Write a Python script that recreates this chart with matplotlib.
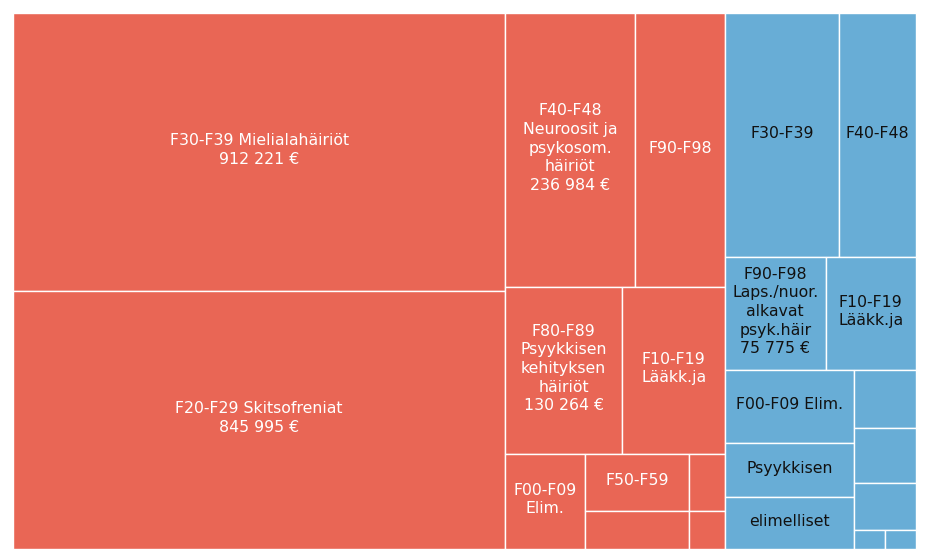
import matplotlib
matplotlib.use("Agg")
import matplotlib.pyplot as plt
from matplotlib.patches import Rectangle

PHI = (1 + 5 ** 0.5) / 2

# group 1 (red)
red_labels = [
    "F30-F39 Mielialahäiriöt",
    "F20-F29 Skitsofreniat",
    "F40-F48\nNeuroosit ja\npsykosom.\nhäiriöt",
    "F90-F98",
    "F80-F89\nPsyykkisen\nkehityksen\nhäiriöt",
    "F10-F19\nLääkk.ja",
    "F00-F09\nElim.",
    "F50-F59",
    "",
    "",
    "",
]
red_values = [912221, 845995, 236984, 164500, 130264, 114400, 50600, 39500, 26300, 13700, 9100]
red_show_value = [True, True, True, False, True, False, False, False, False, False, False]

# group 2 (blue)
blue_labels = [
    "F30-F39",
    "F40-F48",
    "F90-F98\nLaps./nuor.\nalkavat\npsyk.häir",
    "F10-F19\nLääkk.ja",
    "F00-F09 Elim.",
    "Psyykkisen",
    "elimelliset",
    "",
    "",
    "",
    "",
    "",
]
blue_values = [185400, 125200, 75775, 68100, 62800, 46400, 44700, 24000, 22700, 19400, 3900, 3900]
blue_show_value = [False, False, True, False, False, False, False, False, False, False, False, False]

RED = "#e96655"
BLUE = "#68add6"


def squarify(values, x0, y0, x1, y1, ratio=PHI):
    # d3.treemapSquarify port, values sorted descending
    rects = []
    value = float(sum(values))
    n = len(values)
    i0 = i1 = 0
    while i0 < n:
        dx, dy = x1 - x0, y1 - y0
        sum_v = values[i1]
        i1 += 1
        min_v = max_v = sum_v
        alpha = max(dy / dx, dx / dy) / (value * ratio)
        beta = sum_v * sum_v * alpha
        min_ratio = max(max_v / beta, beta / min_v)
        while i1 < n:
            v = values[i1]
            sum_v += v
            min_v = min(min_v, v)
            max_v = max(max_v, v)
            beta = sum_v * sum_v * alpha
            new_ratio = max(max_v / beta, beta / min_v)
            if new_ratio > min_ratio:
                sum_v -= v
                break
            min_ratio = new_ratio
            i1 += 1
        row = values[i0:i1]
        if dx < dy:
            # horizontal row at top
            yb = y0 + dy * sum_v / value
            x = x0
            for v in row:
                w = (x1 - x0) * v / sum_v
                rects.append((x, y0, w, yb - y0))
                x += w
            y0 = yb
        else:
            # vertical column at left
            xb = x0 + dx * sum_v / value
            y = y0
            for v in row:
                h = (y1 - y0) * v / sum_v
                rects.append((x0, y, xb - x0, h))
                y += h
            x0 = xb
        value -= sum_v
        i0 = i1
    return rects


def fmt_eur(v):
    return f"{v:,}".replace(",", " ") + " €"


fig = plt.figure(figsize=(9.27, 5.6), dpi=100)
ax = fig.add_axes([0, 0, 1, 1])
ax.set_xlim(0, 927)
ax.set_ylim(560, 0)
ax.axis("off")

groups = [
    (red_labels, red_values, red_show_value, RED, "white"),
    (blue_labels, blue_values, blue_show_value, BLUE, "#111111"),
]
group_rects = squarify([sum(g[1]) for g in groups], 13, 13, 916, 549)

for (labels, values, show, color, tcolor), (gx, gy, gw, gh) in zip(groups, group_rects):
    for lab, v, sv, (x, y, w, h) in zip(labels, values, show, squarify(values, gx, gy, gx + gw, gy + gh)):
        ax.add_patch(Rectangle((x, y), w, h, facecolor=color, edgecolor="white", linewidth=1.0))
        txt = lab + ("\n" + fmt_eur(v) if sv else "")
        if txt:
            ax.text(x + w / 2, y + h / 2 - 2, txt, ha="center", va="center", multialignment="center",
                    color=tcolor, fontsize=11.3, family="DejaVu Sans", linespacing=1.3)

fig.savefig("out.png", dpi=100)
